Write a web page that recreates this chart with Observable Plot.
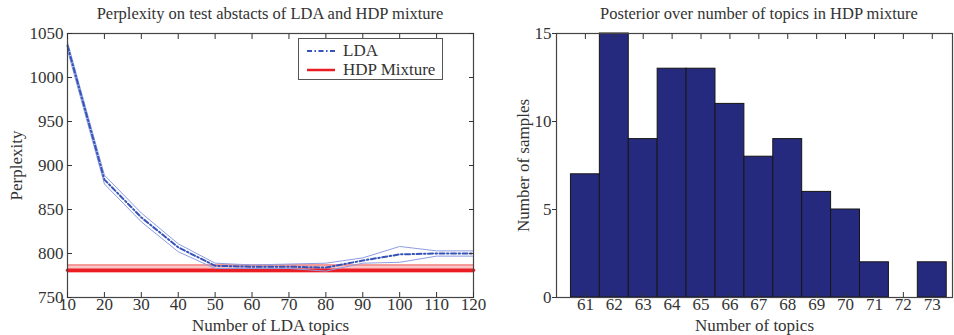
<!DOCTYPE html>
<html><head><meta charset="utf-8">
<script src="https://cdn.jsdelivr.net/npm/d3@7"></script>
<script src="https://cdn.jsdelivr.net/npm/@observablehq/plot@0.6"></script>
<style>
body{margin:0;background:#fff;}
#wrap{position:relative;width:954px;height:335px;font-family:"Liberation Serif",serif;color:#333;overflow:hidden;background:#fff}
.title{position:absolute;top:4px;font-size:16.5px;white-space:nowrap;transform:translateX(-50%)}
.panel{position:absolute;top:25px}
.legend{position:absolute;left:298px;top:38px;width:143px;height:40px;border:1.2px solid #555;background:#fff;font-size:17px}
.legend .row{position:absolute;left:8px;height:20px;display:flex;align-items:center}
.legend .row span{margin-left:8px}
</style>
</head><body>
<div id="wrap">
  <div class="title" style="left:270px">Perplexity on test abstacts of LDA and HDP mixture</div>
  <div class="title" style="left:759px">Posterior over number of topics in HDP mixture</div>
  <div class="panel" id="left" style="left:0px"></div>
  <div class="panel" id="right" style="left:480px"></div>
  <div class="legend" id="legend"></div>
</div>
<script>
// ---- Left panel data ----
const ldaTopics = [10, 20, 30, 40, 50, 60, 70, 80, 90, 100, 110, 120];
const ldaMean   = [1036, 884, 841, 807, 786, 785, 785, 784, 792, 799, 800, 800];
const ldaUpper  = [1040, 889, 846, 811, 789, 787, 788, 789, 795, 808, 803, 803];
const ldaLower  = [1031, 879, 836, 802, 783, 783, 783, 780, 789, 790, 797, 797];
const hdpTopics = [10, 120];
const hdpMean   = [781, 781];
const hdpUpper  = [787, 787];
const hdpLower  = [779, 779];
const leftXTicks = [10, 20, 30, 40, 50, 60, 70, 80, 90, 100, 110, 120];
const leftYTicks = [750, 800, 850, 900, 950, 1000, 1050];

// ---- Right panel data ----
const numTopics = [61, 62, 63, 64, 65, 66, 67, 68, 69, 70, 71, 72, 73];
const numSamples = [7, 15, 9, 13, 13, 11, 8, 9, 6, 5, 2, 0, 2];
const rightYTicks = [0, 5, 10, 15];

const lda = ldaTopics.map((t, i) => ({t, m: ldaMean[i], u: ldaUpper[i], l: ldaLower[i]}));
const hdp = hdpTopics.map((t, i) => ({t, m: hdpMean[i], u: hdpUpper[i], l: hdpLower[i]}));
const hist = numTopics.map((t, i) => ({t, n: numSamples[i]})).filter(d => d.n > 0);

const style = {fontFamily: "'Liberation Serif', serif", fontSize: "17px", color: "#333", background: "transparent", overflow: "visible"};
const blue = "#3553b8", lightBlue = "#8f9de0", red = "#ea1c24", pink = "#f4a0a0";
const plain = d => String(d);

const left = Plot.plot({
  width: 480, height: 310, marginLeft: 67, marginRight: 7, marginTop: 8, marginBottom: 38,
  style,
  x: {domain: [10, 120]},
  y: {domain: [750, 1050]},
  marks: [
    Plot.areaY(hdp, {x: "t", y1: "l", y2: "u", fill: pink, fillOpacity: 0.6}),
    Plot.lineY(hdp, {x: "t", y: "u", stroke: "#f06060", strokeWidth: 1}),
    Plot.lineY(hdp, {x: "t", y: "l", stroke: "#f06060", strokeWidth: 1}),
    Plot.lineY(hdp, {x: "t", y: "m", stroke: red, strokeWidth: 3.5}),
    Plot.lineY(lda, {x: "t", y: "u", stroke: lightBlue, strokeWidth: 1}),
    Plot.lineY(lda, {x: "t", y: "l", stroke: lightBlue, strokeWidth: 1}),
    Plot.lineY(lda, {x: "t", y: "m", stroke: blue, strokeWidth: 2, strokeDasharray: "5,2.5,1.5,2.5"}),
    Plot.frame({stroke: "#444", strokeWidth: 1.2}),
    Plot.axisX({anchor: "bottom", ticks: leftXTicks, tickFormat: plain, tickSize: -5, tickPadding: 5, label: "Number of LDA topics", labelAnchor: "center", labelOffset: 33, labelArrow: "none"}),
    Plot.axisX({anchor: "top", ticks: leftXTicks, tickSize: -5, tickFormat: () => "", label: null}),
    Plot.axisY({anchor: "left", ticks: leftYTicks, tickFormat: plain, tickSize: -5, tickPadding: 9, label: "Perplexity", labelAnchor: "center", labelOffset: 58, labelArrow: "none"}),
    Plot.axisY({anchor: "right", ticks: leftYTicks, tickSize: -5, tickFormat: () => "", label: null})
  ]
});
document.getElementById("left").appendChild(left);

const right = Plot.plot({
  width: 474, height: 310, marginLeft: 76, marginRight: 2, marginTop: 8, marginBottom: 38,
  style,
  x: {domain: [60, 73.7]},
  y: {domain: [0, 15]},
  marks: [
    Plot.rectY(hist, {x1: d => d.t - 0.5, x2: d => d.t + 0.5, y: "n", fill: "#262a7e", stroke: "#151515", strokeWidth: 1}),
    Plot.frame({stroke: "#444", strokeWidth: 1.2}),
    Plot.axisX({anchor: "bottom", ticks: numTopics, tickFormat: plain, tickSize: -5, tickPadding: 5, label: "Number of topics", labelAnchor: "center", labelOffset: 33, labelArrow: "none"}),
    Plot.axisX({anchor: "top", ticks: numTopics, tickSize: -5, tickFormat: () => "", label: null}),
    Plot.axisY({anchor: "left", ticks: rightYTicks, tickFormat: plain, tickSize: 4, tickPadding: 1, label: "Number of samples", labelAnchor: "center", labelOffset: 40, labelArrow: "none"})
  ]
});
document.getElementById("right").appendChild(right);

// ---- Legend ----
const legendItems = [
  {name: "LDA", color: blue, width: 2, dash: "5,2.5,1.5,2.5"},
  {name: "HDP Mixture", color: red, width: 2.5, dash: null}
];
const lg = document.getElementById("legend");
legendItems.forEach((it, i) => {
  const row = document.createElement("div");
  row.className = "row";
  row.style.top = (2 + i * 19) + "px";
  row.innerHTML = `<svg width="28" height="10"><line x1="0" x2="28" y1="5" y2="5" stroke="${it.color}" stroke-width="${it.width}" ${it.dash ? `stroke-dasharray="${it.dash}"` : ""}/></svg><span>${it.name}</span>`;
  lg.appendChild(row);
});
</script>
</body></html>
